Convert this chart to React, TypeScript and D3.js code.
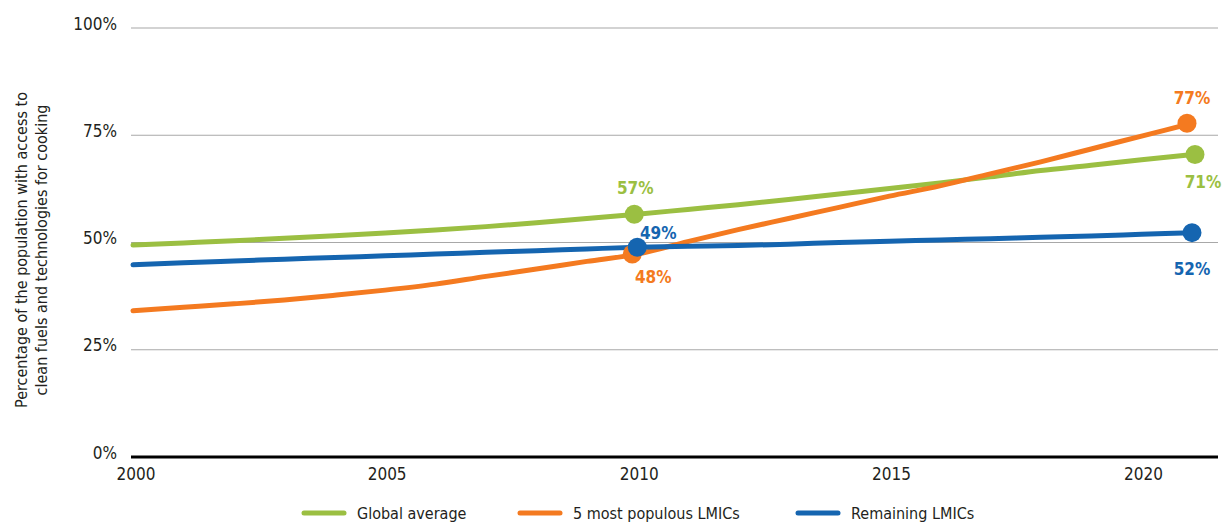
import React from 'react';
import * as d3 from 'd3';

const years = d3.range(2000, 2022);
const globalAverage = [49.4, 49.9, 50.4, 51.0, 51.6, 52.2, 52.9, 53.7, 54.6, 55.6, 56.6, 57.7, 58.8, 60.0, 61.3, 62.6, 63.9, 65.3, 66.8, 68.0, 69.3, 70.5];
const populousLMICs = [34.1, 34.9, 35.7, 36.6, 37.7, 38.9, 40.3, 42.1, 43.8, 45.6, 47.3, 50.2, 53.0, 55.6, 58.2, 60.8, 63.2, 66.0, 68.8, 71.8, 74.8, 77.8];
const remainingLMICs = [44.8, 45.3, 45.7, 46.1, 46.5, 46.9, 47.3, 47.7, 48.1, 48.5, 48.9, 49.1, 49.3, 49.6, 50.0, 50.3, 50.6, 50.9, 51.2, 51.5, 51.9, 52.3];
const yTicks = [0, 25, 50, 75, 100];
const xTicks = [2000, 2005, 2010, 2015, 2020];
const seriesNames = ['Global average', '5 most populous LMICs', 'Remaining LMICs'];
const callouts = [
  { series: 0, year: 2010, text: '57%', dx: -2, dy: -20 },
  { series: 0, year: 2021, text: '71%', dx: 11, dy: 33 },
  { series: 1, year: 2010, text: '48%', dx: 16, dy: 29 },
  { series: 1, year: 2021, text: '77%', dx: 0, dy: -19 },
  { series: 2, year: 2010, text: '49%', dx: 21, dy: -8 },
  { series: 2, year: 2021, text: '52%', dx: 0, dy: 42 },
];

const colors = ['#9bbf42', '#f47a20', '#1565b0'];
const font = '"Liberation Sans Narrow", "DejaVu Sans Condensed", "Roboto Condensed", sans-serif';

export default function App() {
  const width = 1222;
  const height = 523;
  const x = d3.scaleLinear().domain([2000, 2021]).range([133, 1192]);
  const y = d3.scaleLinear().domain([0, 100]).range([457, 28]);
  const allSeries = [globalAverage, populousLMICs, remainingLMICs];

  const line = d3.line<number>()
    .x((_, i) => x(years[i]))
    .y(d => y(d))
    .curve(d3.curveMonotoneX);

  const legendX = [302, 518, 796];

  return (
    <svg width={width} height={height} style={{ position: 'absolute', left: 0, top: 0 }} fontFamily={font}>
      {yTicks.filter(t => t > 0).map(t => (
        <line key={t} x1={131} x2={1218} y1={y(t)} y2={y(t)} stroke="#a8a8a8" strokeWidth={1.2} />
      ))}
      {yTicks.map(t => (
        <text key={t} x={117} y={y(t)} dy="0.1em" textAnchor="end" fontSize={17} fill="#231f20">{t}%</text>
      ))}
      <line x1={131} x2={1218} y1={y(0)} y2={y(0)} stroke="#000" strokeWidth={3} />
      {xTicks.map(t => (
        <text key={t} x={x(t) + (t === 2000 ? 3 : 2)} y={480} textAnchor="middle" fontSize={17} fill="#231f20">{t}</text>
      ))}
      <text transform="translate(27,250) rotate(-90)" textAnchor="middle" fontSize={16} fill="#231f20">
        <tspan x={0} dy={0}>Percentage of the population with access to</tspan>
        <tspan x={0} dy={20}>clean fuels and technologies for cooking</tspan>
      </text>
      {allSeries.map((s, i) => (
        <path key={i} d={line(s) || ''} fill="none" stroke={colors[i]} strokeWidth={5} strokeLinecap="round" />
      ))}
      {callouts.map((c, i) => {
        const v = allSeries[c.series][years.indexOf(c.year)];
        const cx = x(c.year) + (c.series === 0 ? -3 : c.series === 1 ? -5 : 0) + (c.year === 2021 && c.series === 0 ? 6 : 0);
        return (
          <g key={i}>
            <circle cx={cx} cy={y(v)} r={9.5} fill={colors[c.series]} />
          </g>
        );
      })}
      {callouts.map((c, i) => {
        const v = allSeries[c.series][years.indexOf(c.year)];
        return (
          <text key={i} x={x(c.year) + c.dx} y={y(v) + c.dy} textAnchor="middle" fontSize={17} fontWeight="bold" fill={colors[c.series]}>{c.text}</text>
        );
      })}
      {seriesNames.map((n, i) => (
        <g key={n} transform={`translate(${legendX[i]},513)`}>
          <line x1={2} x2={42} y1={0} y2={0} stroke={colors[i]} strokeWidth={5} strokeLinecap="round" />
          <text x={55} y={0} dy="0.35em" fontSize={16} fill="#231f20">{n}</text>
        </g>
      ))}
    </svg>
  );
}
